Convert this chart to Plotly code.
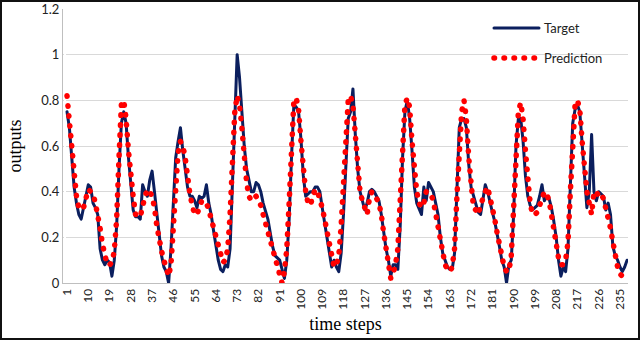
import plotly.graph_objects as go

# time step index 1..238
time_steps = list(range(1, 239))

target = [
    0.75, 0.68, 0.55, 0.42, 0.35, 0.30, 0.28, 0.33, 0.38, 0.43,
    0.42, 0.35, 0.33, 0.30, 0.15, 0.10, 0.08, 0.10, 0.09, 0.03,
    0.10, 0.25, 0.50, 0.70, 0.75, 0.70, 0.55, 0.42, 0.32, 0.29,
    0.29, 0.28, 0.43, 0.40, 0.38, 0.45, 0.49, 0.40, 0.30, 0.22,
    0.12, 0.07, 0.05, 0.00, 0.15, 0.35, 0.55, 0.62, 0.68, 0.58,
    0.50, 0.42, 0.38, 0.38, 0.36, 0.33, 0.38, 0.37, 0.38, 0.43,
    0.35, 0.30, 0.23, 0.17, 0.10, 0.06, 0.05, 0.08, 0.07, 0.15,
    0.45, 0.75, 1.00, 0.90, 0.75, 0.60, 0.50, 0.45, 0.40, 0.40,
    0.44, 0.43, 0.40, 0.35, 0.32, 0.28, 0.22, 0.16, 0.12, 0.11,
    0.10, 0.06, 0.02, 0.10, 0.28, 0.55, 0.78, 0.77, 0.75, 0.63,
    0.47, 0.38, 0.39, 0.40, 0.40, 0.42, 0.42, 0.40, 0.33, 0.26,
    0.20, 0.13, 0.07, 0.10, 0.07, 0.05, 0.13, 0.30, 0.50, 0.72,
    0.75, 0.85, 0.65, 0.50, 0.40, 0.36, 0.32, 0.35, 0.40, 0.41,
    0.40, 0.38, 0.36, 0.30, 0.22, 0.15, 0.10, 0.03, 0.08, 0.08,
    0.06, 0.25, 0.55, 0.75, 0.80, 0.72, 0.58, 0.42, 0.35, 0.32,
    0.30, 0.42, 0.36, 0.44, 0.42, 0.40, 0.35, 0.30, 0.20, 0.13,
    0.10, 0.07, 0.06, 0.06, 0.13, 0.40, 0.68, 0.72, 0.72, 0.68,
    0.52, 0.42, 0.38, 0.35, 0.31, 0.30, 0.36, 0.43, 0.40, 0.35,
    0.31, 0.27, 0.22, 0.16, 0.10, 0.07, 0.00, 0.08, 0.10, 0.30,
    0.60, 0.72, 0.72, 0.62, 0.47, 0.38, 0.34, 0.32, 0.33, 0.34,
    0.38, 0.43, 0.36, 0.38, 0.37, 0.33, 0.27, 0.20, 0.10, 0.03,
    0.07, 0.05, 0.15, 0.40, 0.70, 0.76, 0.78, 0.75, 0.62, 0.45,
    0.33, 0.40, 0.65, 0.40, 0.36, 0.40, 0.39, 0.38, 0.32, 0.35,
    0.30, 0.16, 0.12, 0.10, 0.07, 0.05, 0.07, 0.10,
]

prediction = [
    0.82, 0.72, 0.60, 0.47, 0.38, 0.33, 0.32, 0.33, 0.37, 0.41,
    0.40, 0.39, 0.35, 0.30, 0.24, 0.17, 0.12, 0.08, 0.08, 0.09,
    0.14, 0.28, 0.55, 0.78, 0.80, 0.72, 0.58, 0.45, 0.38, 0.30,
    0.30, 0.29, 0.34, 0.38, 0.41, 0.40, 0.38, 0.33, 0.25, 0.18,
    0.14, 0.10, 0.07, 0.03, 0.08, 0.25, 0.45, 0.57, 0.62, 0.60,
    0.55, 0.45, 0.39, 0.34, 0.30, 0.30, 0.34, 0.36, 0.36, 0.35,
    0.32, 0.28, 0.24, 0.20, 0.15, 0.12, 0.09, 0.10, 0.15, 0.30,
    0.55, 0.75, 0.82, 0.78, 0.68, 0.55, 0.44, 0.38, 0.36, 0.37,
    0.38, 0.36, 0.34, 0.30, 0.26, 0.22, 0.18, 0.14, 0.10, 0.06,
    0.03, 0.00, 0.05, 0.15, 0.35, 0.60, 0.80, 0.81, 0.76, 0.62,
    0.50, 0.40, 0.35, 0.34, 0.38, 0.41, 0.40, 0.37, 0.33, 0.28,
    0.22, 0.16, 0.10, 0.07, 0.08, 0.12, 0.25, 0.45, 0.65, 0.80,
    0.82, 0.78, 0.65, 0.50, 0.40, 0.36, 0.32, 0.30, 0.37, 0.40,
    0.38, 0.37, 0.35, 0.30, 0.22, 0.14, 0.08, 0.02, 0.04, 0.08,
    0.15, 0.35, 0.58, 0.78, 0.81, 0.77, 0.62, 0.48, 0.40, 0.35,
    0.33, 0.35, 0.40, 0.40, 0.39, 0.36, 0.31, 0.25, 0.18, 0.13,
    0.08, 0.06, 0.05, 0.07, 0.15, 0.38, 0.62, 0.75, 0.80, 0.72,
    0.55, 0.40, 0.33, 0.32, 0.30, 0.34, 0.38, 0.40, 0.42, 0.38,
    0.33, 0.28, 0.22, 0.16, 0.11, 0.07, 0.05, 0.05, 0.12, 0.35,
    0.60, 0.75, 0.79, 0.72, 0.58, 0.45, 0.35, 0.30, 0.30, 0.31,
    0.34, 0.38, 0.40, 0.39, 0.36, 0.30, 0.23, 0.16, 0.11, 0.08,
    0.08, 0.10, 0.18, 0.40, 0.65, 0.78, 0.80, 0.76, 0.62, 0.48,
    0.40, 0.35, 0.30, 0.40, 0.40, 0.38, 0.39, 0.37, 0.33, 0.29,
    0.24, 0.18, 0.12, 0.07, 0.04, 0.03, 0.03, 0.04,
]

x_tick_vals = list(range(1, 239, 9))
x_tick_labels = [str(v) for v in x_tick_vals]
y_tick_vals = [0, 0.2, 0.4, 0.6, 0.8, 1, 1.2]
y_tick_labels = ["0", "0.2", "0.4", "0.6", "0.8", "1", "1.2"]

W, H = 640, 340
ml, mr, mt, mb = 63, 12, 9, 57
pw, ph = W - ml - mr, H - mt - mb

fig = go.Figure()
fig.add_trace(go.Scatter(x=time_steps, y=target, mode='lines', name='Target',
                         legendgroup='a',
                         line=dict(color='#0b1f5e', width=3)))
fig.add_trace(go.Scatter(x=time_steps, y=prediction, mode='lines', name='Prediction',
                         legendgroup='b',
                         line=dict(color='#ff0000', width=5.5, dash='0.5px,9.5px')))

fig.update_layout(
    width=W, height=H,
    margin=dict(l=ml, r=mr, t=mt, b=mb, autoexpand=False),
    paper_bgcolor='white', plot_bgcolor='white',
    font=dict(family='Lato, Liberation Sans, sans-serif', size=13, color='#222'),
    legend=dict(x=0.754, y=0.985, xanchor='left', yanchor='top',
                bgcolor='rgba(0,0,0,0)', tracegroupgap=10, itemwidth=45,
                font=dict(size=13)),
    xaxis=dict(range=[-0.7, 238.4], tickmode='array', tickvals=x_tick_vals,
               ticktext=x_tick_labels, tickangle=-90, showgrid=False,
               showline=True, linecolor='#bfbfbf', linewidth=1, ticks='',
               tickfont=dict(size=12),
               title=dict(text='time steps', standoff=8,
                          font=dict(family='Liberation Serif, serif', size=18, color='#000'))),
    yaxis=dict(range=[0, 1.2], tickmode='array', tickvals=y_tick_vals,
               ticktext=y_tick_labels, showgrid=True, gridcolor='#d9d9d9',
               gridwidth=1, showline=True, linecolor='#bfbfbf', linewidth=1,
               zeroline=False, ticks='', ticklen=0, tickfont=dict(size=13),
               title=dict(text='outputs', standoff=14,
                          font=dict(family='Liberation Serif, serif', size=18, color='#000'))),
)

# black frame around the whole picture
fig.add_shape(type='rect', xref='paper', yref='paper',
              x0=(1 - ml) / pw, x1=(W - 1 - ml) / pw,
              y0=(1 - mb) / ph, y1=(H - 1 - mb) / ph,
              line=dict(color='#111', width=2), layer='above')

page_fix = ("document.body.style.margin='0';"
            "var s=document.createElement('style');"
            "s.textContent='path.js-line{stroke-linecap:round;stroke-linejoin:round}';"
            "document.head.appendChild(s);")

fig.write_html("out.html", post_script=page_fix, config={'displayModeBar': False})
